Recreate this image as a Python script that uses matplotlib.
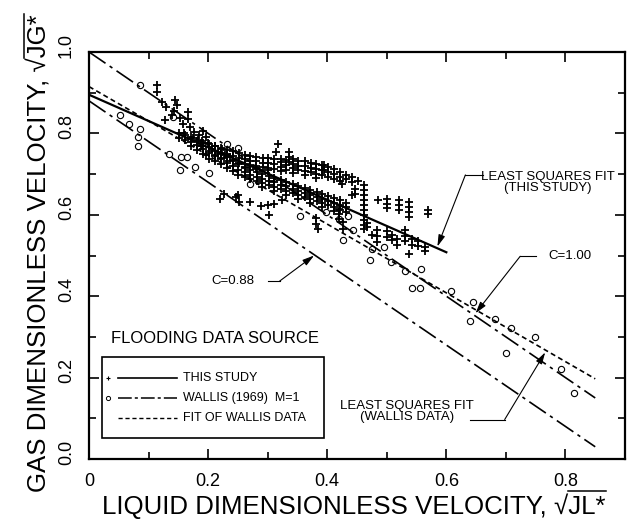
import numpy as np
import matplotlib.pyplot as plt
import matplotlib.transforms as mtransforms
from matplotlib.patches import Rectangle
from matplotlib.lines import Line2D

plt.rcParams['font.family'] = ['Liberation Sans', 'DejaVu Sans']

# --- data ----------------------------------------------------------------
# this study (+), grouped by where the points sit
study_top = [(0.115, 0.918), (0.114, 0.902), (0.122, 0.877), (0.130, 0.866), (0.145, 0.882),
             (0.148, 0.870), (0.143, 0.856), (0.140, 0.845), (0.167, 0.852), (0.166, 0.836),
             (0.128, 0.832), (0.158, 0.822), (0.159, 0.800), (0.176, 0.803), (0.184, 0.796),
             (0.183, 0.783), (0.175, 0.788), (0.196, 0.792), (0.200, 0.776), (0.188, 0.770),
             (0.207, 0.762), (0.212, 0.770), (0.216, 0.752), (0.224, 0.761), (0.229, 0.747),
             (0.237, 0.741), (0.197, 0.747), (0.170, 0.815), (0.152, 0.838), (0.192, 0.805)]

study_upper = [(0.190, 0.781), (0.190, 0.768), (0.201, 0.773), (0.201, 0.757), (0.212, 0.769),
               (0.212, 0.748), (0.221, 0.764), (0.221, 0.753), (0.221, 0.740), (0.232, 0.760),
               (0.232, 0.749), (0.232, 0.731), (0.241, 0.756), (0.241, 0.744), (0.241, 0.734),
               (0.252, 0.752), (0.252, 0.739), (0.252, 0.727), (0.262, 0.747), (0.262, 0.737),
               (0.262, 0.726), (0.262, 0.717), (0.271, 0.744), (0.271, 0.731), (0.271, 0.722),
               (0.281, 0.741), (0.281, 0.733), (0.281, 0.720), (0.281, 0.712), (0.292, 0.739),
               (0.292, 0.728), (0.292, 0.717), (0.301, 0.740), (0.301, 0.727), (0.301, 0.716),
               (0.301, 0.709), (0.311, 0.736), (0.311, 0.726), (0.311, 0.713), (0.322, 0.738),
               (0.322, 0.729), (0.322, 0.718), (0.322, 0.707), (0.331, 0.734), (0.331, 0.722),
               (0.331, 0.711), (0.342, 0.736), (0.342, 0.724), (0.342, 0.714), (0.342, 0.703),
               (0.351, 0.733), (0.351, 0.721), (0.351, 0.709), (0.362, 0.731), (0.362, 0.719),
               (0.362, 0.707), (0.362, 0.698), (0.372, 0.728), (0.372, 0.716), (0.372, 0.704),
               (0.381, 0.725), (0.381, 0.712), (0.381, 0.701), (0.381, 0.691), (0.392, 0.722),
               (0.392, 0.710), (0.392, 0.698), (0.401, 0.717), (0.401, 0.706), (0.401, 0.694),
               (0.412, 0.712), (0.412, 0.701), (0.412, 0.689), (0.421, 0.706), (0.421, 0.694),
               (0.421, 0.684), (0.432, 0.699), (0.432, 0.688), (0.441, 0.692), (0.441, 0.680),
               (0.452, 0.684)]

study_lower = [(0.151, 0.801), (0.151, 0.789), (0.162, 0.796), (0.162, 0.784), (0.171, 0.791),
               (0.171, 0.779), (0.171, 0.768), (0.182, 0.781), (0.182, 0.771), (0.182, 0.759),
               (0.191, 0.776), (0.191, 0.762), (0.191, 0.749), (0.202, 0.766), (0.202, 0.751),
               (0.202, 0.738), (0.211, 0.757), (0.211, 0.744), (0.211, 0.731), (0.222, 0.749),
               (0.222, 0.736), (0.222, 0.724), (0.231, 0.741), (0.231, 0.727), (0.231, 0.714),
               (0.242, 0.732), (0.242, 0.719), (0.242, 0.708), (0.251, 0.726), (0.251, 0.711),
               (0.251, 0.699), (0.262, 0.716), (0.262, 0.704), (0.262, 0.694), (0.271, 0.711),
               (0.271, 0.699), (0.271, 0.688), (0.282, 0.706), (0.282, 0.694), (0.282, 0.684),
               (0.291, 0.701), (0.291, 0.689), (0.291, 0.679), (0.291, 0.668), (0.302, 0.696),
               (0.302, 0.684), (0.302, 0.673), (0.311, 0.691), (0.311, 0.681), (0.311, 0.669),
               (0.311, 0.659), (0.322, 0.686), (0.322, 0.674), (0.322, 0.664), (0.331, 0.681),
               (0.331, 0.671), (0.331, 0.659), (0.331, 0.648), (0.342, 0.676), (0.342, 0.664),
               (0.342, 0.654), (0.351, 0.671), (0.351, 0.659), (0.351, 0.649), (0.351, 0.639),
               (0.362, 0.666), (0.362, 0.654), (0.362, 0.644), (0.371, 0.661), (0.371, 0.649),
               (0.371, 0.639), (0.371, 0.629), (0.382, 0.656), (0.382, 0.644), (0.382, 0.634),
               (0.391, 0.651), (0.391, 0.639), (0.391, 0.629), (0.391, 0.619), (0.402, 0.646),
               (0.402, 0.634), (0.402, 0.624), (0.411, 0.641), (0.411, 0.629), (0.411, 0.618),
               (0.411, 0.609), (0.422, 0.636), (0.422, 0.624), (0.422, 0.613), (0.431, 0.629),
               (0.431, 0.619), (0.431, 0.608)]

study_low = [(0.220, 0.639), (0.226, 0.650), (0.251, 0.649), (0.252, 0.632), (0.247, 0.643),
             (0.271, 0.632), (0.288, 0.622), (0.300, 0.624), (0.310, 0.627), (0.324, 0.637),
             (0.302, 0.600), (0.381, 0.591), (0.381, 0.577), (0.385, 0.566), (0.317, 0.773),
             (0.314, 0.754), (0.336, 0.755), (0.336, 0.742), (0.336, 0.729)]

study_right = [(0.395, 0.722), (0.395, 0.710), (0.424, 0.676), (0.441, 0.649), (0.446, 0.663),
               (0.446, 0.650), (0.461, 0.673), (0.461, 0.661), (0.461, 0.648), (0.461, 0.636),
               (0.461, 0.624), (0.461, 0.612), (0.461, 0.600), (0.461, 0.588), (0.461, 0.576),
               (0.461, 0.564), (0.486, 0.637), (0.500, 0.638), (0.500, 0.627), (0.500, 0.616),
               (0.520, 0.637), (0.520, 0.625), (0.520, 0.612), (0.537, 0.632), (0.537, 0.620),
               (0.537, 0.607), (0.537, 0.595), (0.569, 0.612), (0.569, 0.601), (0.420, 0.615),
               (0.420, 0.602), (0.420, 0.590), (0.427, 0.583), (0.427, 0.566), (0.466, 0.580),
               (0.466, 0.569), (0.475, 0.551), (0.483, 0.563), (0.483, 0.548), (0.483, 0.534),
               (0.500, 0.560), (0.500, 0.545), (0.508, 0.551), (0.508, 0.538), (0.517, 0.541),
               (0.517, 0.526), (0.530, 0.563), (0.530, 0.548), (0.530, 0.535), (0.542, 0.540),
               (0.542, 0.525), (0.537, 0.503), (0.553, 0.535), (0.553, 0.524), (0.564, 0.522),
               (0.564, 0.511)]

# Wallis (1969) data (o)
wallis_x = [0.052, 0.068, 0.085, 0.083, 0.083, 0.085, 0.134, 0.141, 0.154, 0.164,
            0.153, 0.178, 0.202, 0.232, 0.251, 0.271, 0.354, 0.398, 0.420, 0.435,
            0.444, 0.427, 0.475, 0.495, 0.471, 0.507, 0.531, 0.558, 0.542, 0.556,
            0.608, 0.645, 0.639, 0.681, 0.709, 0.749, 0.700, 0.792, 0.814]
wallis_y = [0.846, 0.824, 0.810, 0.790, 0.768, 0.920, 0.749, 0.840, 0.741, 0.741,
            0.710, 0.717, 0.702, 0.773, 0.763, 0.676, 0.598, 0.607, 0.590, 0.597,
            0.563, 0.537, 0.515, 0.522, 0.490, 0.485, 0.463, 0.468, 0.420, 0.420,
            0.412, 0.386, 0.340, 0.344, 0.322, 0.300, 0.261, 0.222, 0.163]

# correlation lines (end points)
c100_x = [0.0, 0.85]
c100_y = [1.00, 0.15]
c088_x = [0.0, 0.85]
c088_y = [0.88, 0.03]
fit_study_x = [0.0, 0.60]
fit_study_y = [0.895, 0.508]
fit_wallis_x = [0.0, 0.85]
fit_wallis_y = [0.915, 0.197]

# --- figure ----------------------------------------------------------------
W_PX, H_PX = 627, 529
fig = plt.figure(figsize=(W_PX / 100, H_PX / 100), dpi=100)
ax = fig.add_axes([89 / W_PX, 1 - 459 / H_PX, 536 / W_PX, 407 / H_PX])

dashdot = (0, (12, 3, 2, 3))
dashed = (0, (3, 2))

ax.plot(c100_x, c100_y, color='k', lw=1.2, ls=dashdot)
ax.plot(c088_x, c088_y, color='k', lw=1.2, ls=dashdot)
ax.plot(fit_wallis_x, fit_wallis_y, color='k', lw=1.2, ls=dashed)
ax.plot(fit_study_x, fit_study_y, color='k', lw=1.6)

for grp in [study_top, study_upper, study_lower, study_low, study_right]:
    pts = np.array(grp)
    ax.plot(pts[:, 0], pts[:, 1], '+', color='k', ms=5.5, mew=1.3)

ax.plot(wallis_x, wallis_y, 'o', mfc='none', mec='k', ms=4.5, mew=0.8)

# --- annotations -----------------------------------------------------------
arrow = dict(arrowstyle='-|>,head_length=0.7,head_width=0.2', color='k', lw=0.8,
             shrinkA=0, shrinkB=0)

ax.text(0.771, 0.680, 'LEAST SQUARES FIT\n(THIS STUDY)', ha='center', va='center',
        fontsize=9.5, linespacing=0.9)
ax.plot([0.661, 0.632], [0.698, 0.698], color='k', lw=0.8)
ax.annotate('', xy=(0.585, 0.522), xytext=(0.632, 0.698), arrowprops=arrow)

ax.text(0.808, 0.498, 'C=1.00', ha='center', va='center', fontsize=9.5)
ax.plot([0.751, 0.724], [0.498, 0.498], color='k', lw=0.8)
ax.annotate('', xy=(0.649, 0.358), xytext=(0.724, 0.498), arrowprops=arrow)

ax.text(0.242, 0.437, 'C=0.88', ha='center', va='center', fontsize=9.5)
ax.plot([0.300, 0.320], [0.437, 0.437], color='k', lw=0.8)
ax.annotate('', xy=(0.378, 0.500), xytext=(0.320, 0.437), arrowprops=arrow)

ax.text(0.534, 0.117, 'LEAST SQUARES FIT\n(WALLIS DATA)', ha='center', va='center',
        fontsize=9.5, linespacing=0.9)
ax.plot([0.639, 0.698], [0.097, 0.097], color='k', lw=0.8)
ax.annotate('', xy=(0.766, 0.262), xytext=(0.698, 0.097), arrowprops=arrow)

# --- legend box drawn by hand -----------------------------------------------
tA = ax.transAxes
ax.text(0.235, 0.297, 'FLOODING DATA SOURCE', transform=tA, ha='center', va='center',
        fontsize=12)
ax.add_patch(Rectangle((0.024, 0.052), 0.414, 0.198, transform=tA, fill=False,
                       ec='k', lw=1.2))
rows = [0.199, 0.150, 0.101]
ax.plot([0.035], [rows[0]], '+', color='k', ms=3.5, mew=0.8, transform=tA)
ax.plot([0.054, 0.164], [rows[0]] * 2, color='k', lw=1.2, transform=tA)
ax.plot([0.035], [rows[1]], 'o', mfc='none', mec='k', ms=3, mew=0.7, transform=tA)
ax.plot([0.054, 0.164], [rows[1]] * 2, color='k', lw=1.1, ls=(0, (9, 2, 2, 2)), transform=tA)
ax.plot([0.054, 0.164], [rows[2]] * 2, color='k', lw=1.0, ls=dashed, transform=tA)
for r, lab in zip(rows, ['THIS STUDY', 'WALLIS (1969)  M=1', 'FIT OF WALLIS DATA']):
    ax.text(0.176, r, lab, transform=tA, ha='left', va='center', fontsize=9)

# --- axes -----------------------------------------------------------------
ax.set_xlim(0, 0.90)
ax.set_ylim(0, 1.0)
ax.set_xticks([0, 0.2, 0.4, 0.6, 0.8])
ax.set_xticklabels(['0', '0.2', '0.4', '0.6', '0.8'])
ax.set_xticks([0.1, 0.3, 0.5, 0.7], minor=True)
ax.set_yticks([0, 0.2, 0.4, 0.6, 0.8, 1.0])
ax.set_yticklabels(['0.0', '0.2', '0.4', '0.6', '0.8', '1.0'])
ax.set_yticks([0.1, 0.3, 0.5, 0.7, 0.9], minor=True)
ax.tick_params(which='both', direction='in', top=True, right=True, width=1.2)
ax.tick_params(which='major', length=7, labelsize=13)
ax.tick_params(which='minor', length=5)
ax.tick_params(axis='x', pad=10)
ax.tick_params(axis='y', pad=10)
shift = mtransforms.ScaledTranslation(0, 5 / 72, fig.dpi_scale_trans)
for lab in ax.get_yticklabels():
    lab.set_rotation(90)
    lab.set_va('center')
    lab.set_transform(lab.get_transform() + shift)
for sp in ax.spines.values():
    sp.set_linewidth(1.6)

# --- axis titles: plain text with a hand-drawn bar over the root ------------
fs_lab = 18.6
cap_px = 0.72 * fs_lab * fig.dpi / 72
fig.canvas.draw()
renderer = fig.canvas.get_renderer()


def text_width(s):
    t = fig.text(0, 0, s, fontsize=fs_lab)
    w = t.get_window_extent(renderer).width
    t.remove()
    return w


def fx(px):
    return px / W_PX


def fy(py):
    return 1 - py / H_PX


xlab = 'LIQUID DIMENSIONLESS VELOCITY, \u221aJL*'
ylab = 'GAS DIMENSIONLESS VELOCITY, \u221aJG*'

# x title: baseline at y=514 px, centred at x=354 px
xc, xb = 354, 514
fig.text(fx(xc), fy(xb), xlab, ha='center', va='baseline', fontsize=fs_lab)
x_end = xc + text_width(xlab) / 2
x_start = x_end - text_width('JL*') - 1
bar_y = xb - cap_px - 4
fig.add_artist(Line2D([fx(x_start), fx(x_end)], [fy(bar_y)] * 2,
                      transform=fig.transFigure, color='k', lw=1.1))

# y title: rotated, baseline at x=47 px, centred at y=253 px
yb, yc = 47, 253
fig.text(fx(yb), fy(yc), ylab, ha='center', va='baseline', fontsize=fs_lab,
         rotation=90, rotation_mode='anchor')
y_end = yc - text_width(ylab) / 2
y_start = y_end + text_width('JG*') + 1
bar_x = yb - cap_px - 4
fig.add_artist(Line2D([fx(bar_x)] * 2, [fy(y_start), fy(y_end)],
                      transform=fig.transFigure, color='k', lw=1.1))

fig.savefig('out.png', dpi=100)
